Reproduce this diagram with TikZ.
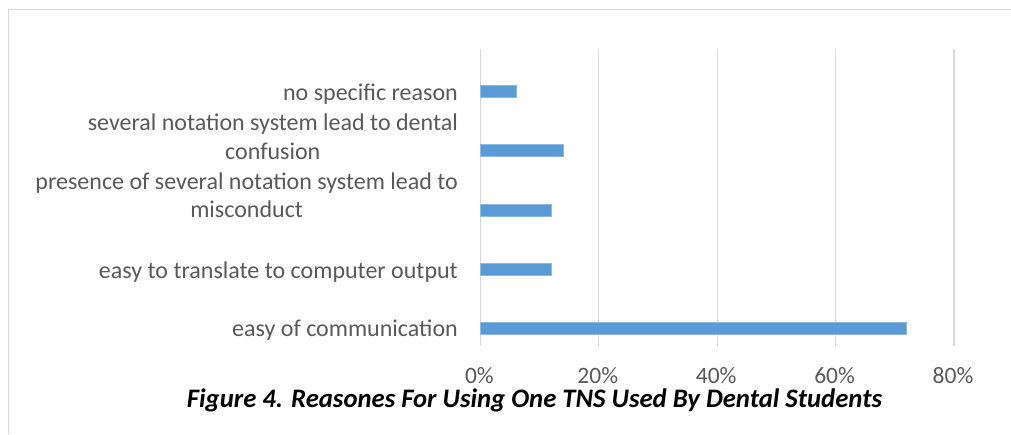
\documentclass[tikz,border=0pt]{standalone}
\usepackage{fontspec}
\setmainfont{Carlito}
\definecolor{barblue}{HTML}{5B9BD5}
\definecolor{gridgray}{HTML}{D9D9D9}
\definecolor{labgray}{HTML}{595959}
\tikzset{
  lbl/.style={font=\fontsize{24}{29}\selectfont, text=labgray, inner sep=0pt},
  ticklbl/.style={font=\fontsize{23.5}{28}\selectfont, text=labgray, inner sep=0pt, anchor=base, text depth=0pt},
  gridline/.style={draw=gridgray, line width=1.3pt},
  bar/.style={fill=barblue, draw=barblue!70!white, line width=0.6pt},
  frameline/.style={draw=gridgray, line width=1.3pt},
  titlelbl/.style={font=\fontsize{26.7}{32}\selectfont\bfseries\itshape, text=black, inner sep=0pt, anchor=base, text height=16pt}
}
\begin{document}
\begin{tikzpicture}[x=1pt,y=-1pt]
\useasboundingbox (0,0) rectangle (1011,434);
% frame
\draw[frameline] (1011,9.3) -- (8.7,9.3) -- (8.7,434);
% gridlines and tick labels
\foreach \k/\t in {0/0\%,1/20\%,2/40\%,3/60\%,4/80\%}{
  \draw[gridline] (480.4+118.4*\k,49) -- (480.4+118.4*\k,345.5);
  \node[ticklbl] (tick\k) at (479.4+118.4*\k,383.3) {\t};
}
% bars (value in %, 5.92 px per %)
\foreach \i/\v in {0/6,1/14,2/12,3/12,4/72}{
  \path[bar] (480.4,91+59.4*\i-6) rectangle (480.4+5.92*\v,91+59.4*\i+6);
}
% category labels
\node[lbl,anchor=base east] (c1) at (458,100.3) {no specific reason};
\node[lbl,anchor=base east] (c2a) at (458,130.3) {several notation system lead to dental};
\path (c2a.base) ++(0,28.7) node[lbl,anchor=base] (c2b) {confusion};
\node[lbl,anchor=base east] (c3a) at (458,189) {presence of several notation system lead to};
\path (c3a.base) ++(0,28.7) node[lbl,anchor=base] (c3b) {misconduct};
\node[lbl,anchor=base east] (c4) at (458,278.3) {easy to translate to computer output};
\node[lbl,anchor=base east] (c5) at (458,336.7) {easy of communication};
% title
\node[titlelbl] (title) at (534.5,407) {Figure 4. Reasones For Using One TNS Used By Dental Students};
\end{tikzpicture}
\end{document}
